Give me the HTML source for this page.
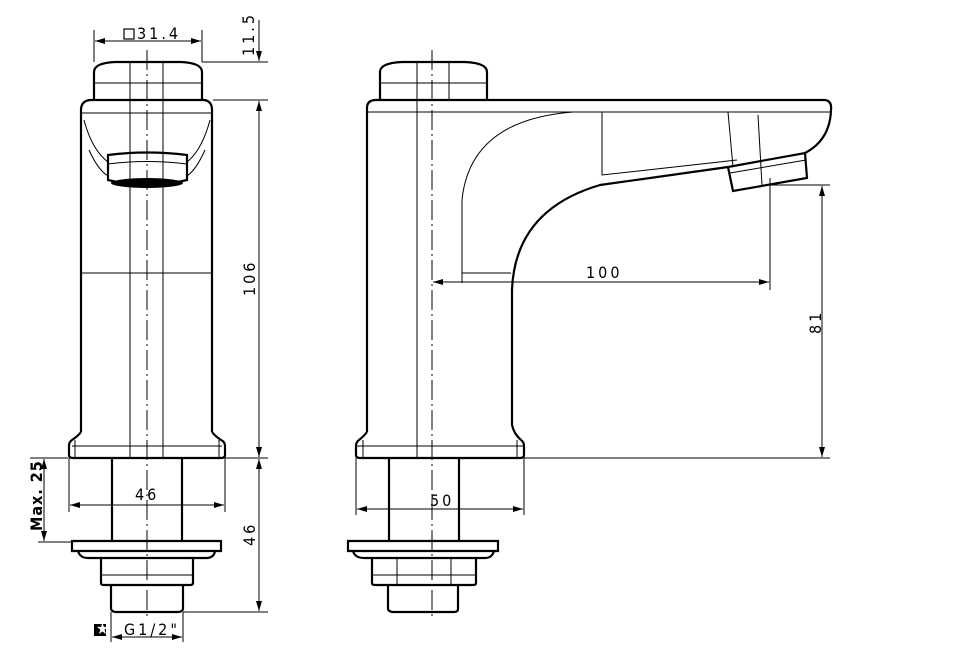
<!DOCTYPE html>
<html><head><meta charset="utf-8"><style>
html,body{margin:0;padding:0;background:#fff;width:960px;height:667px;overflow:hidden}
svg{display:block}
text{font-family:"DejaVu Sans Condensed","Liberation Sans Narrow","Liberation Sans",sans-serif;font-size:16px;fill:#000;letter-spacing:3px}
</style></head><body>
<svg width="960" height="667" viewBox="0 0 960 667" xmlns="http://www.w3.org/2000/svg">
<defs>
<marker id="a" viewBox="0 0 10 6" refX="10" refY="3" markerWidth="12" markerHeight="6" orient="auto-start-reverse" markerUnits="userSpaceOnUse"><path d="M0,0L10,3L0,6z" fill="#000"/></marker>
</defs>
<g fill="none" stroke="#000">
<!-- FRONT VIEW -->
<g stroke-width="2.2">
<path d="M94,100 V72 Q94,63 115,62 H181 Q202,63 202,72 V100"/>
<path d="M81,432 V110 Q81,101 90,100 H204 Q212,101 212,110 V432"/>
<path d="M81,432 Q78,436 72,440 Q69,442 69,446 V455 Q69,458 73,458 H221 Q225,458 225,455 V446 Q225,442 221,440 Q215,436 212,432"/>
<path d="M108,155 Q147,150 187,155 V180 Q147,190 108,180 Z"/>
<path d="M112,458 V540 M182,458 V540"/>
<path d="M72,541 H221 V551 H72 Z"/>
<path d="M78,551 Q80,558 88,558 H206 Q214,558 215,551"/>
<path d="M101,558 V583 Q101,585 104,585 H190 Q193,585 193,583 V558"/>
<path d="M111,585 V609 Q112,612 116,612 H178 Q182,612 183,609 V585"/>
</g>
<ellipse cx="147" cy="183" rx="36" ry="5" fill="#000" stroke="none"/>
<g stroke-width="1">
<path d="M94,83 H202"/>
<path d="M81,113 H212"/>
<path d="M84,120 Q92,150 108,162 M210,120 Q202,150 187,162"/>
<path d="M89,150 Q98,170 108,176 M205,150 Q196,170 187,176"/>
<path d="M108,164 Q147,159 187,164"/>
<path d="M81,273 H212"/>
<path d="M130,62 V458 M163,62 V458"/>
<path d="M72,446 H222 M75,440 V458 M219,440 V458"/>
<path d="M101,575 H193"/>
<path d="M30,458 H68"/>
</g>
<path d="M147,50 V620" stroke-width="1" stroke-dasharray="20,4,2,4"/>
<!-- front dims -->
<g stroke-width="1">
<path d="M94,30 V62 M202,30 V62"/>
<path d="M95,41 H201" marker-start="url(#a)" marker-end="url(#a)"/>
<path d="M202,62 H268 M213,100 H268 M225,458 H268 M183,612 H268"/>
<path d="M259,20 V61" marker-end="url(#a)"/>
<path d="M259,101 V457" marker-start="url(#a)" marker-end="url(#a)"/>
<path d="M259,459 V611" marker-start="url(#a)" marker-end="url(#a)"/>
<path d="M44,459 V541" marker-start="url(#a)" marker-end="url(#a)"/>
<path d="M38,542 H72"/>
<path d="M69,458 V512 M225,458 V512"/>
<path d="M70,505 H224" marker-start="url(#a)" marker-end="url(#a)"/>
<path d="M111,612 V642 M183,612 V642"/>
<path d="M112,637 H182" marker-start="url(#a)" marker-end="url(#a)"/>
</g>
<rect x="124" y="29" width="10" height="10" stroke-width="1.2"/>
<!-- SIDE VIEW -->
<g stroke-width="2.2">
<path d="M380,100 V72 Q380,63 402,62 H465 Q487,63 487,72 V100"/>
<path d="M367,432 V108 Q367,100 376,100 H825 Q832,101 831,110 Q830,140 805,153"/>
<path d="M805,153 L807,178 L733,191 L728,167 Z"/>
<path d="M728,167 L600,185 Q515,210 512,290 V425 Q514,434 521,440"/>
<path d="M367,432 Q364,436 359,440 Q356,442 356,446 V455 Q356,458 360,458 H520 Q524,458 524,455 V446 Q524,442 521,440"/>
<path d="M389,458 V540 M459,458 V540"/>
<path d="M348,541 H498 V551 H348 Z"/>
<path d="M353,551 Q355,558 364,558 H485 Q492,558 494,551"/>
<path d="M372,558 V583 Q372,585 375,585 H473 Q476,585 476,583 V558"/>
<path d="M388,585 V609 Q389,612 393,612 H454 Q458,612 458,609 V585"/>
</g>
<g stroke-width="1">
<path d="M380,83 H487 M417,62 V458 M449,62 V100"/>
<path d="M367,112 H831"/>
<path d="M462,283 V200 Q470,120 573,112"/>
<path d="M462,273 H511"/>
<path d="M602,112 V175 L737,160"/>
<path d="M728,112 L733,167 M758,115 L762,185"/>
<path d="M730,173 L806,160"/>
<path d="M356,446 H524 M363,440 V458 M517,440 V458"/>
<path d="M397,558 V585 M451,558 V585"/>
<path d="M372,575 H476"/>
</g>
<path d="M432,50 V620" stroke-width="1" stroke-dasharray="20,4,2,4"/>
<!-- side dims -->
<g stroke-width="1">
<path d="M770,178 V290"/>
<path d="M433,282 H769" marker-start="url(#a)" marker-end="url(#a)"/>
<path d="M770,185 H830 M524,458 H830"/>
<path d="M822,186 V457" marker-start="url(#a)" marker-end="url(#a)"/>
<path d="M356,458 V515 M524,458 V515"/>
<path d="M357,509 H523" marker-start="url(#a)" marker-end="url(#a)"/>
</g>
</g>
<!-- texts -->
<text x="137" y="39" font-size="13">31.4</text>
<text transform="translate(254,56) rotate(-90)" font-size="16">11.5</text>
<text transform="translate(255,296) rotate(-90)">106</text>
<text transform="translate(255,546) rotate(-90)">46</text>
<text transform="translate(42,531) rotate(-90)" font-size="13" font-weight="bold" style="letter-spacing:1px">Max. 25</text>
<text x="135" y="500">46</text>
<text x="124" y="635" font-size="14">G1/2"</text>
<rect x="94" y="624" width="12" height="12" fill="#000"/>
<text x="96" y="634" font-size="9" style="fill:#fff;letter-spacing:0">★</text>
<text x="586" y="278">100</text>
<text transform="translate(821,334) rotate(-90)">81</text>
<text x="430" y="506">50</text>
</svg>
</body></html>
